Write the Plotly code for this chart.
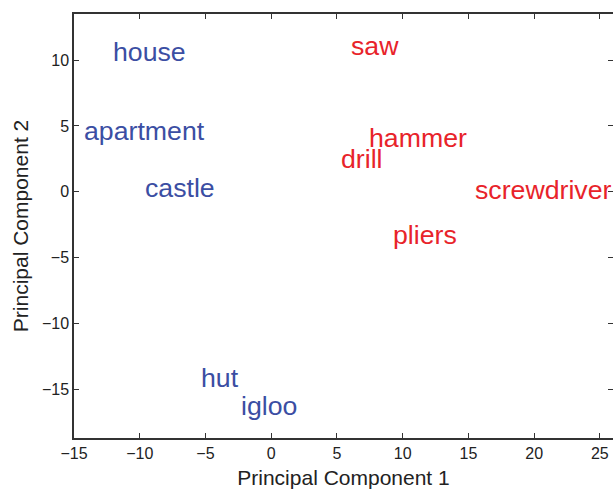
import plotly.graph_objects as go

words = ["house", "apartment", "castle", "hut", "igloo",
         "saw", "hammer", "drill", "screwdriver", "pliers"]
pc1 = [-12.1, -14.3, -9.65, -5.4, -2.4,
       6.0, 7.4, 5.2, 15.4, 9.2]
pc2 = [10.59, 4.59, 0.28, -14.16, -16.26,
       11.04, 4.08, 2.48, 0.10, -3.32]
groups = ["dwelling"] * 5 + ["tool"] * 5
group_colors = {"dwelling": "#3b4ea3", "tool": "#e8232a"}

x_ticks = [-15, -10, -5, 0, 5, 10, 15, 20, 25]
y_ticks = [-15, -10, -5, 0, 5, 10]

fig = go.Figure()
fig.add_trace(go.Scatter(x=pc1, y=pc2, mode="markers",
                         marker=dict(size=1, color="rgba(0,0,0,0)"),
                         hoverinfo="skip", showlegend=False))

for w, x, y, g in zip(words, pc1, pc2, groups):
    fig.add_annotation(x=x, y=y, xref="x", yref="y", text=w,
                       showarrow=False, xanchor="left", yanchor="middle",
                       borderpad=0,
                       font=dict(family="Liberation Sans, Arial", size=26.7,
                                 color=group_colors[g]))

axis_common = dict(
    showline=True, linecolor="#333333", linewidth=1.5, mirror="ticks",
    ticks="inside", ticklen=5, tickwidth=1, tickcolor="#333333",
    showgrid=False, zeroline=False,
    tickfont=dict(family="Liberation Sans, Arial", size=16, color="#222222"),
)

fig.update_xaxes(range=[-15, 26], tickvals=x_ticks, **axis_common,
                 title=dict(text="Principal Component 1",
                            font=dict(family="Liberation Sans, Arial", size=21, color="#222222"),
                            standoff=12))
fig.update_yaxes(range=[-18.7, 13.5], tickvals=y_ticks, **axis_common,
                 title=dict(text="Principal Component 2",
                            font=dict(family="Liberation Sans, Arial", size=21, color="#222222"),
                            standoff=8))

fig.update_layout(width=613, height=489,
                  margin=dict(l=74, r=0, t=14, b=51, autoexpand=False),
                  plot_bgcolor="white", paper_bgcolor="white",
                  showlegend=False)

fig.write_html("out.html")
